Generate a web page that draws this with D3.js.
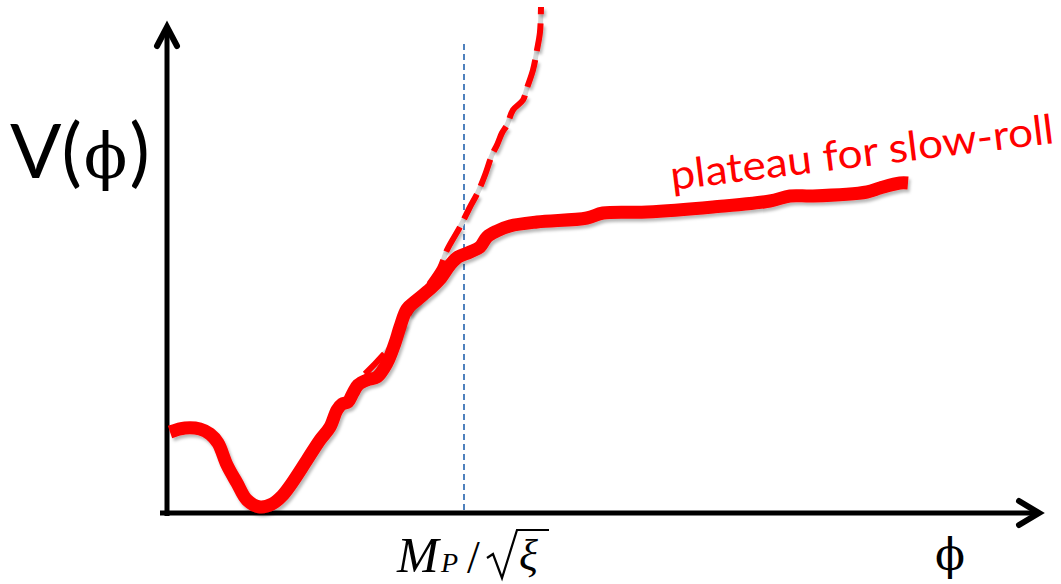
<!DOCTYPE html>
<html>
<head>
<meta charset="utf-8">
<script src="https://cdn.jsdelivr.net/npm/d3@7"></script>
<style>
  body { margin: 0; background: #fff; }
  svg { display: block; }
</style>
</head>
<body>
<div id="chart"></div>
<script>
// potential curve (phi, V)
var phiSolid = [0.2, 1.7, 3.2, 4.2, 5.0, 5.9, 6.9, 7.9, 9.2, 10.4, 11.4, 12.4, 13.9, 15.2, 16.2, 16.9, 17.4, 18.0, 18.5, 19.0, 19.9, 20.9, 21.9, 22.7, 23.2, 23.9, 24.9, 26.2, 27.2, 28.2, 29.0, 30.2, 31.2, 31.9, 32.9, 34.2, 36.9, 41.9, 43.5, 47.9, 54.5, 60.2, 62.2, 64.5, 69.9, 71.2, 73.2, 74.0];
var vSolid   = [8.1, 8.5, 8.4, 7.9, 7.0, 4.8, 3.0, 1.3, 0.6, 0.9, 1.7, 3.0, 5.3, 7.3, 8.6, 10.3, 10.9, 11.1, 12.0, 12.8, 13.3, 13.6, 15.0, 17.0, 18.6, 20.4, 21.3, 22.4, 23.4, 24.8, 25.6, 26.1, 26.6, 27.6, 28.2, 28.7, 29.1, 29.5, 30.0, 30.1, 30.6, 31.2, 31.7, 31.7, 32.1, 32.5, 33.0, 33.0];

// the dashed branch that keeps rising
var phiDash = [19.7, 22.5, 24.2, 25.7, 27.2, 27.9, 29.2, 30.2, 31.0, 31.7, 32.4, 32.9, 33.4, 33.9, 34.5, 35.5, 35.9, 36.5, 36.9, 37.2, 37.3];
var vDash   = [13.9, 17.0, 20.1, 22.3, 24.5, 26.3, 28.6, 30.6, 32.1, 33.8, 35.8, 36.8, 38.0, 38.8, 40.3, 41.3, 42.5, 44.3, 46.3, 48.1, 50.6];

var markerPhi = 29.6, markerTop = 46.9;
var plateauLabel = "plateau for slow-roll";

var W = 1061, H = 584;

var svg = d3.select("#chart").append("svg")
  .attr("width", W).attr("height", H);

var x = d3.scaleLinear().domain([0, 87]).range([168, 1038]);
var y = d3.scaleLinear().domain([0, 49]).range([513, 23]);

// soft powerpoint-ish shadow
var defs = svg.append("defs");
defs.append("filter").attr("id", "shadow")
  .attr("x", "-10%").attr("y", "-10%").attr("width", "120%").attr("height", "120%")
  .append("feDropShadow")
  .attr("dx", 2).attr("dy", 3).attr("stdDeviation", 1.8)
  .attr("flood-color", "#000").attr("flood-opacity", 0.28);

var line = d3.line()
  .x(function(d) { return x(d[0]); })
  .y(function(d) { return y(d[1]); })
  .curve(d3.curveCatmullRom.alpha(0.5));

var solid = phiSolid.map(function(p, i) { return [p, vSolid[i]]; });
var dash = phiDash.map(function(p, i) { return [p, vDash[i]]; });

// axes
svg.append("line")
  .attr("x1", x(0) - 8).attr("x2", x(87) - 2)
  .attr("y1", y(0)).attr("y2", y(0))
  .attr("stroke", "#000").attr("stroke-width", 5);
svg.append("line")
  .attr("x1", x(0) - 1).attr("x2", x(0) - 1)
  .attr("y1", y(0) + 3).attr("y2", y(48.6) + 2)
  .attr("stroke", "#000").attr("stroke-width", 5);

// arrow heads
var xt = x(87.1), yt = y(0);
svg.append("polyline")
  .attr("points", [[xt - 20, yt - 12], [xt, yt], [xt - 20, yt + 12]].join(" "))
  .attr("fill", "none").attr("stroke", "#000").attr("stroke-width", 6)
  .attr("stroke-linecap", "round");
var ax = x(0) - 1, ay = y(48.6);
svg.append("polyline")
  .attr("points", [[ax - 10, ay + 19], [ax, ay], [ax + 10, ay + 19]].join(" "))
  .attr("fill", "none").attr("stroke", "#000").attr("stroke-width", 6)
  .attr("stroke-linecap", "round");

// blue dashed marker
svg.append("line")
  .attr("x1", x(markerPhi)).attr("x2", x(markerPhi))
  .attr("y1", y(markerTop)).attr("y2", y(0) - 2)
  .attr("stroke", "#4f81bd").attr("stroke-width", 2)
  .attr("stroke-dasharray", "6,4");

// dashed branch: grey underlay + red dashes
svg.append("path")
  .attr("d", line(dash))
  .attr("fill", "none").attr("stroke", "#d8d8d8").attr("stroke-width", 5);
svg.append("path")
  .attr("d", line(dash))
  .attr("fill", "none").attr("stroke", "#ff0000").attr("stroke-width", 6)
  .attr("stroke-dasharray", "28,9")
  .attr("filter", "url(#shadow)");

// main solid curve
svg.append("path")
  .attr("d", line(solid))
  .attr("fill", "none").attr("stroke", "#ff0000").attr("stroke-width", 13)
  .attr("stroke-linejoin", "round")
  .attr("filter", "url(#shadow)");

var phiFont = "'DejaVu Serif', serif";

// y label V(phi)
var yl = svg.append("text")
  .attr("x", 10).attr("y", 178)
  .attr("font-family", "Lato, 'Open Sans', sans-serif")
  .attr("font-size", 76)
  .attr("fill", "#000");
yl.append("tspan").text("V(");
yl.append("tspan").attr("font-family", phiFont).attr("font-size", 64).attr("dx", 2).text("ϕ");
yl.append("tspan").attr("dx", 2).text(")");

// x label phi
svg.append("text")
  .attr("x", 950).attr("y", 570)
  .attr("text-anchor", "middle")
  .attr("font-family", phiFont)
  .attr("font-size", 44)
  .text("ϕ");

// M_P / sqrt(xi) under the marker
var mx = x(markerPhi) - 67, my = 572;
var mathFont = "'Liberation Serif', 'DejaVu Serif', serif";
svg.append("text").attr("x", mx).attr("y", my)
  .attr("font-family", mathFont).attr("font-style", "italic").attr("font-size", 50).text("M");
svg.append("text").attr("x", mx + 44).attr("y", my)
  .attr("font-family", mathFont).attr("font-style", "italic").attr("font-size", 28).text("P");
svg.append("text").attr("x", mx + 70).attr("y", my + 1)
  .attr("font-family", mathFont).attr("font-size", 46).text("/");
// radical sign drawn as a stroke, overline across the xi
svg.append("path")
  .attr("d", d3.line()([[mx + 90, my - 14], [mx + 96, my - 18], [mx + 105, my + 6], [mx + 120, my - 42], [mx + 152, my - 42]]))
  .attr("fill", "none").attr("stroke", "#000").attr("stroke-width", 2.2)
  .attr("stroke-linejoin", "miter");
svg.append("text").attr("x", mx + 122).attr("y", my - 2)
  .attr("font-family", mathFont).attr("font-style", "italic").attr("font-size", 44).text("ξ");

// plateau annotation
svg.append("text")
  .attr("transform", "translate(672,190) rotate(-7)")
  .attr("font-family", "Lato, 'Open Sans', sans-serif")
  .attr("font-size", 41)
  .attr("fill", "#ff0000")
  .attr("textLength", 386)
  .attr("lengthAdjust", "spacingAndGlyphs")
  .text(plateauLabel);
</script>
</body>
</html>
